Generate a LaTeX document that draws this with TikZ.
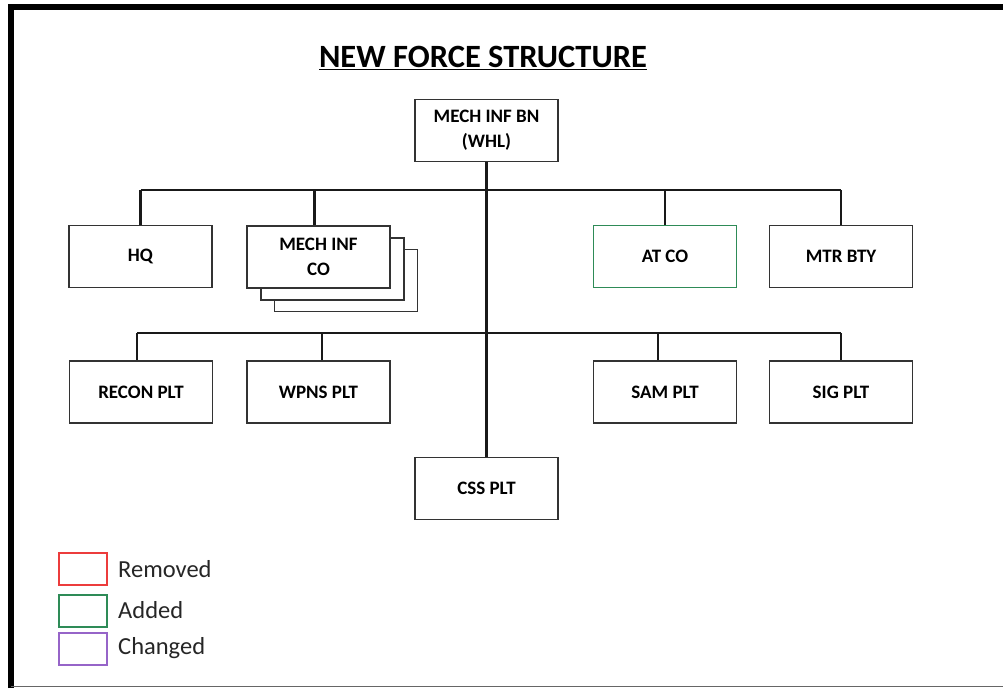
\documentclass[tikz,border=0pt]{standalone}
\usepackage{fontspec}
\setmainfont{Carlito}
\definecolor{remred}{RGB}{236,60,60}
\definecolor{addgreen}{RGB}{46,139,87}
\definecolor{chgpurple}{RGB}{150,100,200}
\begin{document}
\begin{tikzpicture}[x=1pt,y=-1pt,
  box/.style={draw=black!80, line width=1.3pt, fill=white, minimum width=143pt, minimum height=62pt, align=center, inner sep=0pt, font=\bfseries\fontsize{19}{25}\selectfont},
  conn/.style={line width=2.6pt, black!90},
  legbox/.style={draw=#1, line width=1.3pt, minimum width=48pt, minimum height=32pt, inner sep=0pt},
  legtext/.style={anchor=west, inner sep=0pt, font=\fontsize{24.5}{28}\selectfont, text=black!85}]
\useasboundingbox (0,0) rectangle (1003,688);
\fill[white] (0,0) rectangle (1003,688);
% frame
\draw[line width=6pt, black] (11,688) -- (11,7) -- (1003,7);
\draw[line width=1.2pt, black!60] (11,686.5) -- (1003,686.5);
% title
\node[font=\bfseries\fontsize{32.5}{36}\selectfont, inner sep=0pt] (title) at (483,58) {\underline{NEW FORCE STRUCTURE}};
% boxes
\node[box] (bn) at (486.5,130.5) {MECH INF BN\\(WHL)};
\node[box] (hq) at (140.5,256.5) {HQ};
\node[box] (mic3) at (346,280.5) {};
\node[box] (mic2) at (332.5,269) {};
\node[box] (mic) at (318.5,257) {MECH INF\\CO};
\node[box, draw=addgreen] (at) at (665,256.5) {AT CO};
\node[box] (mtr) at (841,256.5) {MTR BTY};
\node[box] (recon) at (141,392) {RECON PLT};
\node[box] (wpns) at (318.5,392) {WPNS PLT};
\node[box] (sam) at (665,392) {SAM PLT};
\node[box] (sig) at (841,392) {SIG PLT};
\node[box] (css) at (486.5,488.5) {CSS PLT};
% buses
\coordinate (busA) at (486,190);
\coordinate (busB) at (486,333);
\draw[conn] (bn.south) -- (css.north);
\draw[conn] (hq.north |- busA) -- (mtr.north |- busA);
\draw[conn] (hq.north |- busA) -- (hq.north);
\draw[conn] ([xshift=-4pt]mic.north |- busA) -- ([xshift=-4pt]mic.north);
\draw[conn] (at.north |- busA) -- (at.north);
\draw[conn] (mtr.north |- busA) -- (mtr.north);
\draw[conn] ([xshift=-4pt]recon.north |- busB) -- (sig.north |- busB);
\draw[conn] ([xshift=-4pt]recon.north |- busB) -- ([xshift=-4pt]recon.north);
\draw[conn] ([xshift=3.5pt]wpns.north |- busB) -- ([xshift=3.5pt]wpns.north);
\draw[conn] ([xshift=-7pt]sam.north |- busB) -- ([xshift=-7pt]sam.north);
\draw[conn] (sig.north |- busB) -- (sig.north);
% legend
\node[legbox=remred] (lr) at (83,569) {};
\node[legbox=addgreen] (la) at (83,611) {};
\node[legbox=chgpurple] (lc) at (83,649) {};
\node[legtext] (tr) at (118,569) {Removed};
\node[legtext] (ta) at (118,610) {Added};
\node[legtext] (tc) at (118,648) {Changed};
\end{tikzpicture}
\end{document}
